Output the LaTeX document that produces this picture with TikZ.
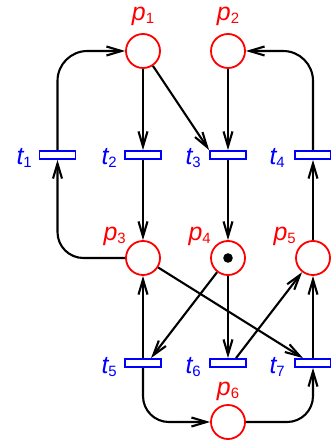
\documentclass[tikz,border=0pt]{standalone}
\usepackage{fontspec}
\setmainfont{Liberation Sans}
\usetikzlibrary{arrows.meta}
\newcommand{\lbl}[2]{{\itshape #1}\raisebox{-3bp}{\fontsize{15}{15}\selectfont #2}}
\begin{document}
\begin{tikzpicture}[x=1bp,y=-1bp,
  place/.style={circle,draw=red,line width=1.8bp,minimum size=34bp,inner sep=0pt},
  trans/.style={rectangle,draw=blue,line width=1.8bp,minimum width=36bp,minimum height=8bp,inner sep=0pt},
  plabel/.style={text=red,font=\fontsize{25}{27}\selectfont,inner sep=0pt},
  tlabel/.style={text=blue,font=\fontsize{25}{27}\selectfont,inner sep=0pt,anchor=base east},
  arc/.style={line width=2.1bp,-{Straight Barb[length=15bp,width=9bp,line width=2.1bp]}}]
\useasboundingbox (0,0) rectangle (330,443);
% places
\node[place] (p1) at (143,51) {};
\node[place] (p2) at (228,51) {};
\node[place] (p3) at (143,258) {};
\node[place] (p4) at (228,258) {};
\node[place] (p5) at (313,258) {};
\node[place] (p6) at (228,422) {};
% transitions
\node[trans] (t1) at (57.5,155) {};
\node[trans] (t2) at (143,155) {};
\node[trans] (t3) at (228,155) {};
\node[trans] (t4) at (313,155) {};
\node[trans] (t5) at (143,363) {};
\node[trans] (t6) at (228,363) {};
\node[trans] (t7) at (313,363) {};
% token
\fill (p4.center) circle (4.8);
% place labels
\node[plabel,anchor=base] (lp1) at (143,21) {\lbl{p}{1}};
\node[plabel,anchor=base] (lp2) at (228,21) {\lbl{p}{2}};
\node[plabel,anchor=base east] (lp3) at (126,240) {\lbl{p}{3}};
\node[plabel,anchor=base east] (lp4) at (211,240) {\lbl{p}{4}};
\node[plabel,anchor=base east] (lp5) at (296,240) {\lbl{p}{5}};
\node[plabel,anchor=base] (lp6) at (228,395) {\lbl{p}{6}};
% transition labels
\node[tlabel] (lt1) at (32,165) {\lbl{t}{1}};
\node[tlabel] (lt2) at (117,165) {\lbl{t}{2}};
\node[tlabel] (lt3) at (201,165) {\lbl{t}{3}};
\node[tlabel] (lt4) at (285,165) {\lbl{t}{4}};
\node[tlabel] (lt5) at (117,373) {\lbl{t}{5}};
\node[tlabel] (lt6) at (201,373) {\lbl{t}{6}};
\node[tlabel] (lt7) at (285,373) {\lbl{t}{7}};
% arcs
\draw[arc,rounded corners=30] (t1.north) |- (p1.west);
\draw[arc,rounded corners=30] (t4.north) |- (p2.east);
\draw[arc,rounded corners=26] (p3.west) -| (t1.south);
\draw[arc] (p1) -- (t2);
\draw[arc] (p1) -- (t3.north west);
\draw[arc] (p2) -- (t3);
\draw[arc] (p5) -- (t4);
\draw[arc] (t2) -- (p3);
\draw[arc] (t3) -- (p4);
\draw[arc] (p3) -- ([xshift=-10bp]t7.north);
\draw[arc] (p4) -- ([xshift=8bp]t5.north);
\draw[arc] (p4) -- (t6);
\draw[arc] ([xshift=8bp]t6.north) -- (p5);
\draw[arc] (t5) -- (p3);
\draw[arc] (t7) -- (p5);
\draw[arc,rounded corners=26] (t5.south) |- (p6.west);
\draw[arc,rounded corners=26] (p6.east) -| (t7.south);
\end{tikzpicture}
\end{document}
